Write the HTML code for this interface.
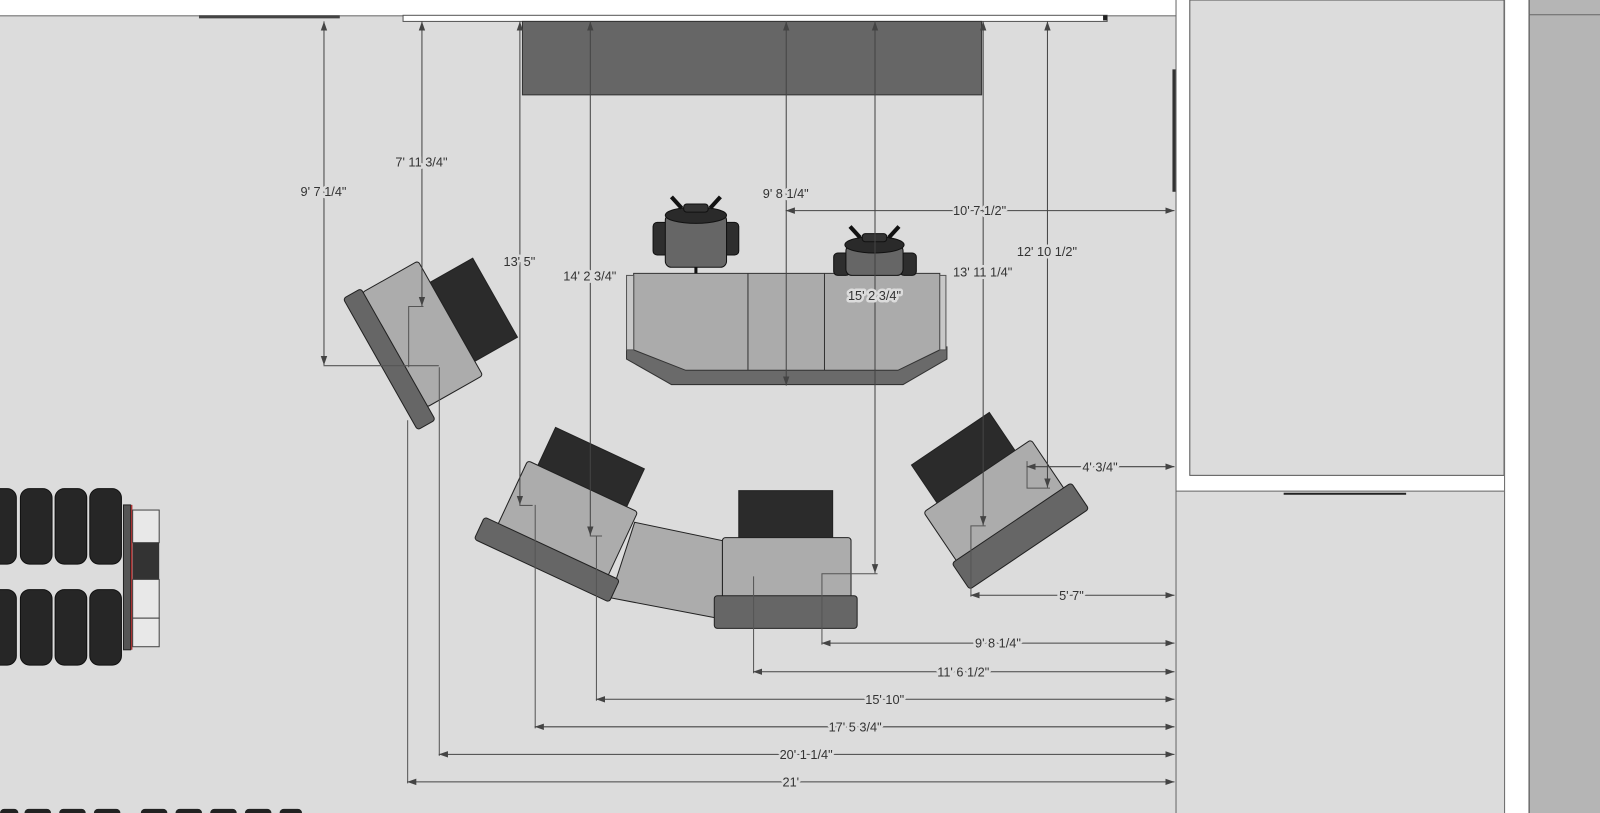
<!DOCTYPE html>
<html><head><meta charset="utf-8"><style>
html,body{margin:0;padding:0;background:#dcdcdc;overflow:hidden}
svg{display:block}
text{font-family:"Liberation Sans",sans-serif;font-size:12.5px;fill:#333;text-anchor:middle;paint-order:stroke;stroke:#dcdcdc;stroke-width:5px;stroke-linejoin:round}
.d{stroke:#444;stroke-width:1;fill:none}
.e{stroke:#555;stroke-width:1;fill:none}
</style></head><body>
<svg width="1600" height="813" viewBox="0 0 1568 797" preserveAspectRatio="none" xmlns="http://www.w3.org/2000/svg">
<defs>
<marker id="a" viewBox="0 0 10 10" refX="10" refY="5" markerWidth="9" markerHeight="9" orient="auto-start-reverse" markerUnits="userSpaceOnUse"><path d="M0,1.5 L10,5 L0,8.5 z" fill="#444"/></marker>
</defs>
<rect width="1568" height="797" fill="#dcdcdc"/>
<!-- top wall -->
<rect x="0" y="0" width="1152" height="15" fill="#fff"/>
<line x1="0" y1="15.5" x2="1152" y2="15.5" stroke="#777"/>
<rect x="195" y="15" width="138" height="3" fill="#444"/>
<rect x="395" y="15" width="690" height="6" fill="#fff" stroke="#555" stroke-width="1"/>
<rect x="1081" y="15" width="4" height="5" fill="#222"/>
<!-- right room -->
<rect x="1152" y="0" width="322" height="481" fill="#fff"/>
<rect x="1166" y="0" width="308" height="466" fill="#dcdcdc" stroke="#555"/>
<line x1="1152.5" y1="0" x2="1152.5" y2="797" stroke="#666"/>
<line x1="1152" y1="481.5" x2="1474" y2="481.5" stroke="#666"/>
<rect x="1149" y="68" width="3" height="120" fill="#333"/>
<line x1="1258" y1="484" x2="1378" y2="484" stroke="#222" stroke-width="2"/>
<rect x="1474" y="0" width="24" height="797" fill="#fff"/>
<line x1="1474.5" y1="0" x2="1474.5" y2="797" stroke="#666"/>
<rect x="1498" y="0" width="70" height="797" fill="#b5b5b5"/>
<line x1="1498.5" y1="0" x2="1498.5" y2="797" stroke="#444"/>
<line x1="1498" y1="14.5" x2="1568" y2="14.5" stroke="#666"/>
<!-- top panel -->
<rect x="512" y="21" width="450" height="72" fill="#666" stroke="#333"/>
<!-- desk -->
<polygon points="614,340 928,340 928,352 885,377 658,377 614,352" fill="#6a6a6a" stroke="#333"/>
<polygon points="621,268 921,268 921,343 880,363 672,363 621,343" fill="#ababab" stroke="#333"/>
<rect x="614" y="270" width="7" height="73" fill="#c8c8c8" stroke="#555"/>
<rect x="921" y="270" width="6" height="73" fill="#c8c8c8" stroke="#555"/>
<line x1="733" y1="268" x2="733" y2="363" stroke="#333"/>
<line x1="808" y1="268" x2="808" y2="363" stroke="#333"/>
<!-- chair 1 -->
<g stroke="#111">
<line x1="682" y1="258" x2="682" y2="268" stroke-width="3"/>
<rect x="640" y="218" width="16" height="32" rx="4" fill="#2e2e2e"/>
<rect x="708" y="218" width="16" height="32" rx="4" fill="#2e2e2e"/>
<rect x="652" y="210" width="60" height="52" rx="6" fill="#666"/>
<ellipse cx="682" cy="211" rx="30" ry="8" fill="#2a2a2a"/>
<rect x="670" y="200" width="24" height="8" rx="3" fill="#333"/>
<line x1="668" y1="204" x2="658" y2="193" stroke-width="4"/>
<line x1="696" y1="204" x2="706" y2="193" stroke-width="4"/>
</g>
<!-- chair 2 -->
<g stroke="#111">
<rect x="817" y="248" width="16" height="22" rx="4" fill="#2e2e2e"/>
<rect x="882" y="248" width="16" height="22" rx="4" fill="#2e2e2e"/>
<rect x="829" y="240" width="56" height="30" rx="6" fill="#666"/>
<ellipse cx="857" cy="240" rx="29" ry="8" fill="#2a2a2a"/>
<rect x="845" y="229" width="24" height="8" rx="3" fill="#333"/>
<line x1="843" y1="233" x2="833" y2="222" stroke-width="4"/>
<line x1="871" y1="233" x2="881" y2="222" stroke-width="4"/>
</g>
<!-- left group -->
<g transform="translate(420,335) rotate(-29.5)" stroke="#222">
<rect x="30" y="-50" width="48" height="89" fill="#2b2b2b"/>
<rect x="-33" y="-74" width="63" height="129" rx="3" fill="#acacac"/>
<rect x="-52" y="-78" width="20" height="148" rx="3" fill="#666"/>
</g>
<!-- couch middle -->
<polygon points="622,512 708,530 708,607 598,586" fill="#acacac" stroke="#222"/>
<!-- bottom-left group -->
<g transform="translate(555,510) rotate(25)" stroke="#222">
<rect x="-48" y="-78" width="96" height="44" fill="#2b2b2b"/>
<rect x="-59" y="-37" width="119" height="72" rx="3" fill="#acacac"/>
<rect x="-74" y="31" width="146" height="24" rx="3" fill="#666"/>
</g>
<!-- center seat -->
<rect x="724" y="481" width="92" height="46" fill="#2b2b2b" stroke="#222"/>
<rect x="708" y="527" width="126" height="64" rx="3" fill="#acacac" stroke="#222"/>
<rect x="700" y="584" width="140" height="32" rx="3" fill="#666" stroke="#222"/>
<!-- right group -->
<g transform="translate(980,495) rotate(-34)" stroke="#222">
<rect x="-50" y="-81" width="92" height="46" fill="#2b2b2b"/>
<rect x="-66" y="-36" width="127" height="64" rx="3" fill="#acacac"/>
<rect x="-71" y="21" width="141" height="31" rx="3" fill="#666"/>
</g>
<!-- tires -->
<g fill="#262626" stroke="#111">
<rect x="-16" y="479" width="32" height="74" rx="9"/>
<rect x="20" y="479" width="31" height="74" rx="9"/>
<rect x="54" y="479" width="31" height="74" rx="9"/>
<rect x="88" y="479" width="31" height="74" rx="9"/>
<rect x="-16" y="578" width="32" height="74" rx="9"/>
<rect x="20" y="578" width="31" height="74" rx="9"/>
<rect x="54" y="578" width="31" height="74" rx="9"/>
<rect x="88" y="578" width="31" height="74" rx="9"/>
</g>
<rect x="121" y="495" width="7" height="142" fill="#555" stroke="#222"/>
<line x1="129" y1="495" x2="129" y2="637" stroke="#a33" stroke-width="1.5"/>
<rect x="130" y="500" width="26" height="32" fill="#e8e8e8" stroke="#444"/>
<rect x="130" y="532" width="26" height="36" fill="#333"/>
<rect x="130" y="568" width="26" height="38" fill="#e8e8e8" stroke="#444"/>
<rect x="130" y="606" width="26" height="28" fill="#e8e8e8" stroke="#444"/>
<g fill="#222">
<rect x="0" y="793" width="18" height="8" rx="4"/><rect x="24" y="793" width="26" height="8" rx="4"/><rect x="58" y="793" width="26" height="8" rx="4"/><rect x="92" y="793" width="26" height="8" rx="4"/>
<rect x="138" y="793" width="26" height="8" rx="4"/><rect x="172" y="793" width="26" height="8" rx="4"/><rect x="206" y="793" width="26" height="8" rx="4"/><rect x="240" y="793" width="26" height="8" rx="4"/><rect x="274" y="793" width="22" height="8" rx="4"/>
</g>
<!-- extension lines -->
<g class="e">
<path d="M317,358.5 H430 M400,300.5 H415 M400.5,300 V360"/>
<path d="M399.5,412 V768 M430.5,360 V741"/>
<path d="M509,495.5 H522 M524.5,495 V714"/>
<path d="M578,525.5 H590 M584.5,525 V687"/>
<path d="M805,562.5 H860 M805.5,562 V632 M738.5,565 V660"/>
<path d="M951,515.5 H966 M951.5,515 V585"/>
<path d="M1006,478.5 H1029 M1006.5,452 V478"/>
</g>
<!-- vertical dims -->
<g class="d">
<line x1="317.5" y1="21" x2="317.5" y2="358" marker-start="url(#a)" marker-end="url(#a)"/>
<line x1="413.5" y1="21" x2="413.5" y2="300" marker-start="url(#a)" marker-end="url(#a)"/>
<line x1="509.5" y1="21" x2="509.5" y2="495" marker-start="url(#a)" marker-end="url(#a)"/>
<line x1="578.5" y1="21" x2="578.5" y2="525" marker-start="url(#a)" marker-end="url(#a)"/>
<line x1="770.5" y1="21" x2="770.5" y2="378" marker-start="url(#a)" marker-end="url(#a)"/>
<line x1="857.5" y1="21" x2="857.5" y2="562" marker-start="url(#a)" marker-end="url(#a)"/>
<line x1="963.5" y1="21" x2="963.5" y2="515" marker-start="url(#a)" marker-end="url(#a)"/>
<line x1="1026.5" y1="21" x2="1026.5" y2="478" marker-start="url(#a)" marker-end="url(#a)"/>
</g>
<!-- horizontal dims -->
<g class="d">
<line x1="770" y1="206.5" x2="1151" y2="206.5" marker-start="url(#a)" marker-end="url(#a)"/>
<line x1="1006" y1="457.5" x2="1151" y2="457.5" marker-start="url(#a)" marker-end="url(#a)"/>
<line x1="951" y1="583.5" x2="1151" y2="583.5" marker-start="url(#a)" marker-end="url(#a)"/>
<line x1="805" y1="630.5" x2="1151" y2="630.5" marker-start="url(#a)" marker-end="url(#a)"/>
<line x1="738" y1="658.5" x2="1151" y2="658.5" marker-start="url(#a)" marker-end="url(#a)"/>
<line x1="584" y1="685.5" x2="1151" y2="685.5" marker-start="url(#a)" marker-end="url(#a)"/>
<line x1="524" y1="712.5" x2="1151" y2="712.5" marker-start="url(#a)" marker-end="url(#a)"/>
<line x1="430" y1="739.5" x2="1151" y2="739.5" marker-start="url(#a)" marker-end="url(#a)"/>
<line x1="399" y1="766.5" x2="1151" y2="766.5" marker-start="url(#a)" marker-end="url(#a)"/>
</g>
<!-- labels -->
<text x="317" y="192">9' 7 1/4"</text>
<text x="413" y="163">7' 11 3/4"</text>
<text x="509" y="261">13' 5"</text>
<text x="578" y="275">14' 2 3/4"</text>
<text x="770" y="194">9' 8 1/4"</text>
<text x="857" y="294">15' 2 3/4"</text>
<text x="963" y="271">13' 11 1/4"</text>
<text x="1026" y="251">12' 10 1/2"</text>
<text x="960" y="211">10' 7 1/2"</text>
<text x="1078" y="462">4' 3/4"</text>
<text x="1050" y="588">5' 7"</text>
<text x="978" y="635">9' 8 1/4"</text>
<text x="944" y="663">11' 6 1/2"</text>
<text x="867" y="690">15' 10"</text>
<text x="838" y="717">17' 5 3/4"</text>
<text x="790" y="744">20' 1 1/4"</text>
<text x="775" y="771">21'</text>
</svg>
</body></html>
